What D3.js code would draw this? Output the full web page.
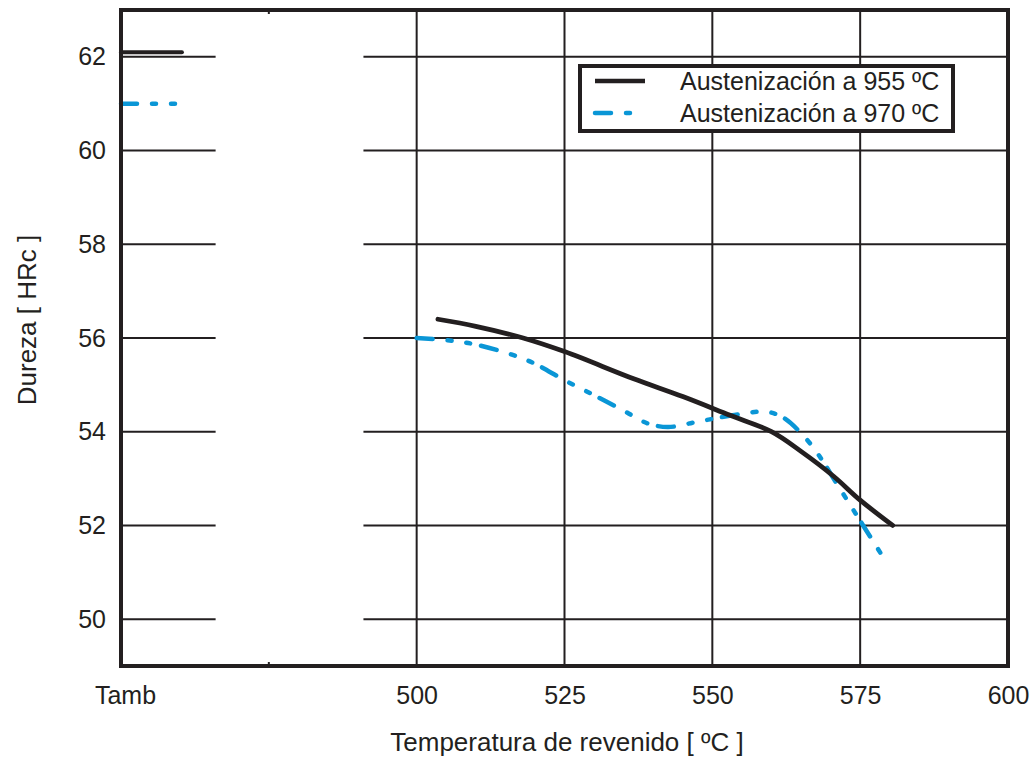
<!DOCTYPE html>
<html>
<head>
<meta charset="utf-8">
<script src="https://cdn.jsdelivr.net/npm/d3@7"></script>
<style>
  html, body { margin: 0; padding: 0; background: #fff; }
  svg text { font-family: "Liberation Sans", Arial, sans-serif; fill: #231f20; }
</style>
</head>
<body>
<svg id="chart" width="1036" height="758"></svg>
<script>
// ---- data ----
const seriesNames = ["Austenización a 955 ºC", "Austenización a 970 ºC"];
const tambValues = [62.1, 61.0];           // hardness at room temperature (Tamb)
const temp955 = [503.6, 510, 518, 525, 536.7, 545, 553, 560, 565, 570.5, 575, 580.5];
const hard955 = [56.4, 56.25, 56.0, 55.71, 55.13, 54.75, 54.35, 54.0, 53.58, 53.05, 52.54, 52.0];
const temp970 = [500, 506, 510, 516, 520, 525, 530, 535, 539, 542.5, 547, 551.5, 555, 559, 562, 565.5, 568, 571, 573.5, 575.5, 579.5];
const hard970 = [56.0, 55.94, 55.86, 55.65, 55.45, 55.1, 54.78, 54.45, 54.18, 54.1, 54.2, 54.31, 54.38, 54.43, 54.3, 53.9, 53.5, 52.9, 52.4, 52.0, 51.2];
const xTickValues = [500, 525, 550, 575, 600];
const xTickLabels = ["500", "525", "550", "575", "600"];
const tambLabel = "Tamb";
const yTickValues = [50, 52, 54, 56, 58, 60, 62];
const xTitle = "Temperatura de revenido [ ºC ]";
const yTitle = "Dureza [ HRc ]";

// ---- layout ----
const ink = "#231f20", blue = "#0a96d6";
const svg = d3.select("#chart");
const pLeft = 121, pRight = 1008, pTop = 10, pBottom = 666;
const x = d3.scaleLinear().domain([450, 600]).range([pLeft, pRight]);
const y = d3.scaleLinear().domain([49, 63]).range([pBottom, pTop]);
const tambX = 450, minorTick = 475;
const gridSegs = [[450, 466], [491, 600]];
const tambLen = 10.3;

const g = svg.append("g");

// horizontal grid segments
yTickValues.forEach(v => {
  gridSegs.forEach(s => {
    g.append("line").attr("x1", x(s[0])).attr("x2", x(s[1]))
      .attr("y1", y(v)).attr("y2", y(v))
      .attr("stroke", ink).attr("stroke-width", 2);
  });
});
// vertical grid
xTickValues.slice(0, -1).forEach(v => {
  g.append("line").attr("x1", x(v)).attr("x2", x(v))
    .attr("y1", pTop).attr("y2", pBottom)
    .attr("stroke", ink).attr("stroke-width", 2);
});
// minor tick at 475
[pTop, pBottom].forEach((yy, i) => {
  g.append("line").attr("x1", x(minorTick)).attr("x2", x(minorTick))
    .attr("y1", yy).attr("y2", i ? yy - 4 : yy + 4)
    .attr("stroke", ink).attr("stroke-width", 2);
});

// axes labels using d3 axes (no lines)
const yAxis = d3.axisLeft(y).tickValues(yTickValues).tickSize(0).tickPadding(15);
const ya = svg.append("g").attr("transform", `translate(${pLeft},0)`).call(yAxis);
ya.select(".domain").remove();
ya.selectAll("text").attr("font-size", 25).attr("fill", ink).attr("font-family", "Liberation Sans, Arial, sans-serif");

const xAxis = d3.axisBottom(x).tickValues([tambX].concat(xTickValues))
  .tickFormat((d, i) => i === 0 ? tambLabel : xTickLabels[i - 1]).tickSize(0).tickPadding(20);
const xa = svg.append("g").attr("transform", `translate(0,${pBottom})`).call(xAxis);
xa.select(".domain").remove();
xa.selectAll("text").attr("font-size", 25).attr("fill", ink).attr("font-family", "Liberation Sans, Arial, sans-serif");
xa.selectAll(".tick").filter((d, i) => i === 0).select("text").attr("dx", 4);

// titles
svg.append("text").attr("x", 567).attr("y", 751).attr("text-anchor", "middle")
  .attr("font-size", 26).text(xTitle);
svg.append("text").attr("transform", `translate(36,320) rotate(-90)`).attr("text-anchor", "middle")
  .attr("font-size", 26).text(yTitle);

// lines
const line = d3.line().x(d => x(d[0])).y(d => y(d[1])).curve(d3.curveCatmullRom.alpha(0.5));
const dashBlue = "16,15,4,15,4,11";
const d955 = temp955.map((t, i) => [t, hard955[i]]);
const d970 = temp970.map((t, i) => [t, hard970[i]]);

svg.append("path").datum(d970).attr("d", line).attr("fill", "none")
  .attr("stroke", blue).attr("stroke-width", 4.5).attr("stroke-linecap", "round")
  .attr("stroke-dasharray", dashBlue);
svg.append("path").datum(d955).attr("d", line).attr("fill", "none")
  .attr("stroke", ink).attr("stroke-width", 4.8).attr("stroke-linecap", "round");

// Tamb values
svg.append("line").attr("x1", x(tambX)).attr("x2", x(tambX + tambLen))
  .attr("y1", y(tambValues[0])).attr("y2", y(tambValues[0]))
  .attr("stroke", ink).attr("stroke-width", 4).attr("stroke-linecap", "round");
svg.append("line").attr("x1", x(tambX)).attr("x2", x(tambX + tambLen))
  .attr("y1", y(tambValues[1])).attr("y2", y(tambValues[1]))
  .attr("stroke", blue).attr("stroke-width", 4.5).attr("stroke-linecap", "round")
  .attr("stroke-dasharray", dashBlue);

// frame
svg.append("rect").attr("x", pLeft).attr("y", pTop).attr("width", pRight - pLeft).attr("height", pBottom - pTop)
  .attr("fill", "none").attr("stroke", ink).attr("stroke-width", 4);

// legend
const lg = svg.append("g");
lg.append("rect").attr("x", 580).attr("y", 66).attr("width", 373).attr("height", 65)
  .attr("fill", "#fff").attr("stroke", ink).attr("stroke-width", 4);
const ly = [81, 113];
const colors = [ink, blue];
seriesNames.forEach((n, i) => {
  const l = lg.append("line").attr("x1", 595).attr("x2", 645).attr("y1", ly[i]).attr("y2", ly[i])
    .attr("stroke", colors[i]).attr("stroke-width", 4.5).attr("stroke-linecap", i ? "round" : "butt");
  if (i) l.attr("stroke-dasharray", dashBlue);
  lg.append("text").attr("x", 680).attr("y", ly[i] + 9).attr("font-size", 25).text(n);
});
</script>
</body>
</html>
